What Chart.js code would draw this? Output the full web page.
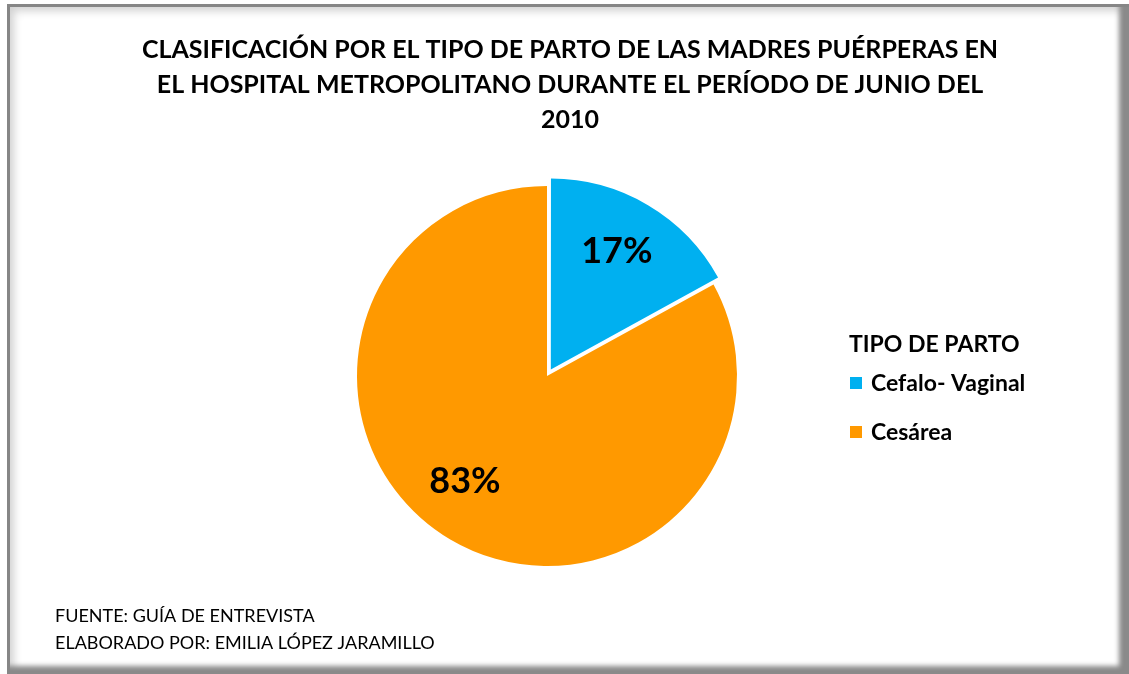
<!DOCTYPE html>
<html lang="es">
<head>
  <meta charset="UTF-8">
  <title>Tipo de parto</title>
  <script src="https://cdn.jsdelivr.net/npm/chart.js"></script>
  <style>
    body { margin: 0; background: #fff; }
    #frame {
      position: absolute; left: 7px; top: 4px; width: 1119px; height: 667px;
      border-top: 3px solid #868686; border-left: 3px solid #868686;
      box-shadow: inset -12px -10px 5px -2px #8a8a8a, inset 8px 8px 8px -4px rgba(0,0,0,0.18);
    }
    #pieChart { position: absolute; left: 0; top: 0; }
  </style>
</head>
<body>
  <div id="frame"></div>
  <canvas id="pieChart" width="1129" height="674"></canvas>
  <script>
    const categories = ['Cefalo- Vaginal', 'Cesárea'];
    const percentages = [17, 83];
    const sliceColors = ['#00B0F0', '#FF9900'];
    const titleLines = [
      'CLASIFICACIÓN POR EL TIPO DE PARTO DE LAS MADRES PUÉRPERAS EN',
      'EL HOSPITAL METROPOLITANO DURANTE EL PERÍODO DE JUNIO DEL',
      '2010'
    ];
    const legendTitle = 'TIPO DE PARTO';
    const footerLines = [
      'FUENTE: GUÍA DE ENTREVISTA',
      'ELABORADO POR: EMILIA LÓPEZ JARAMILLO'
    ];

    // where each percent label sits inside its slice (radius fraction, extra turn in degrees)
    const labelPlacement = [{ ratio: 0.756, turn: -1.5 }, { ratio: 0.70, turn: 7.5 }];

    const textPlugin = {
      id: 'textPlugin',
      afterDraw(chart) {
        const c = chart.ctx;
        c.save();
        c.fillStyle = '#000';
        c.textBaseline = 'alphabetic';

        // title
        c.font = 'bold 25px Lato';
        c.textAlign = 'center';
        titleLines.forEach((t, i) => c.fillText(t, 570, 58 + i * 35));

        // percent labels
        const meta = chart.getDatasetMeta(0);
        c.font = 'bold 36px Lato';
        c.textBaseline = 'middle';
        meta.data.forEach((arc, i) => {
          const p = labelPlacement[i];
          const mid = (arc.startAngle + arc.endAngle) / 2 + p.turn * Math.PI / 180;
          const r = arc.outerRadius * p.ratio;
          c.fillText(percentages[i] + '%', arc.x + Math.cos(mid) * r, arc.y + Math.sin(mid) * r + 1);
        });

        // legend
        c.textAlign = 'left';
        c.textBaseline = 'alphabetic';
        c.font = 'bold 23px Lato';
        c.fillText(legendTitle, 849, 352);
        categories.forEach((name, i) => {
          const y = 391 + i * 49;
          c.fillStyle = sliceColors[i];
          c.fillRect(850, y - 14, 12, 12);
          c.fillStyle = '#000';
          c.fillText(name, 871, y);
        });

        // footer
        c.font = '18px Lato';
        footerLines.forEach((t, i) => c.fillText(t, 55, 622 + i * 27));
        c.restore();
      }
    };

    const ctx = document.getElementById('pieChart').getContext('2d');
    const pieChart = new Chart(ctx, {
      type: 'pie',
      data: {
        labels: categories,
        datasets: [{
          data: percentages,
          backgroundColor: sliceColors,
          borderWidth: 0,
          offset: [30, 0]
        }]
      },
      options: {
        responsive: false,
        animation: false,
        radius: 190,
        layout: { padding: { left: 0, right: 35, top: 78, bottom: 0 } },
        plugins: {
          legend: { display: false },
          title: { display: false },
          tooltip: { enabled: false }
        }
      },
      plugins: [textPlugin]
    });
  </script>
</body>
</html>
